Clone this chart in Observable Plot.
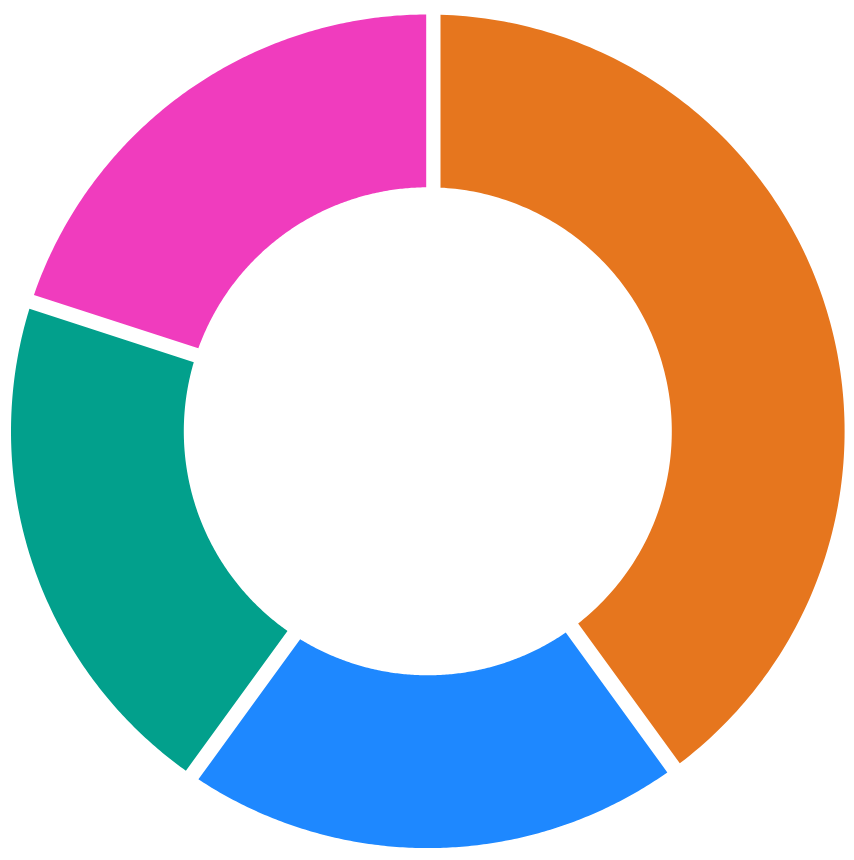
<!DOCTYPE html>
<html>
<head>
<meta charset="utf-8">
<script src="https://cdn.jsdelivr.net/npm/d3@7"></script>
<script src="https://cdn.jsdelivr.net/npm/@observablehq/plot@0.6"></script>
<style>
  html, body { margin: 0; padding: 0; background: #ffffff; }
  #chart svg { display: block; }
</style>
</head>
<body>
<div id="chart"></div>
<script>
// ---- data ----
const categories = ["A", "B", "C", "D"];
const values = [40, 20, 20, 20];
const colors = ["#e6761e", "#1e88ff", "#02a08c", "#f03cbe"];

// ---- geometry (donut built via d3.pie, drawn through Plot scales) ----
const W = 854, H = 860;
const cx = 427.3, cy = 430.8;
const R = 416.8, r0 = 244;
// perpendicular shift (px, clockwise positive) of each slice's start / end edge
const edgeShift = [[12.7, -8.7], [6.7, -19], [-3.8, -6.6], [8.0, -1.6]];
const steps = 160;

const arcs = d3.pie().sort(null).startAngle(0).endAngle(2 * Math.PI)(values);
const rows = [];
arcs.forEach((a, i) => {
  const [hs, he] = edgeShift[i];
  const o0 = a.startAngle + Math.asin(hs / R), o1 = a.endAngle + Math.asin(he / R);
  const i0 = a.startAngle + Math.asin(hs / r0), i1 = a.endAngle + Math.asin(he / r0);
  for (let k = 0; k <= steps; k++) {
    const t = o0 + (o1 - o0) * k / steps;
    rows.push({cat: categories[i], x: R * Math.sin(t), y: R * Math.cos(t)});
  }
  for (let k = 0; k <= steps; k++) {
    const t = i1 + (i0 - i1) * k / steps;
    rows.push({cat: categories[i], x: r0 * Math.sin(t), y: r0 * Math.cos(t)});
  }
});

const chart = Plot.plot({
  width: W,
  height: H,
  margin: 0,
  x: {domain: [-cx, W - cx], axis: null},
  y: {domain: [-(H - cy), cy], axis: null},
  color: {domain: categories, range: colors},
  marks: [
    Plot.line(rows, {x: "x", y: "y", z: "cat", fill: "cat", stroke: "none", curve: "linear-closed"})
  ]
});
document.getElementById("chart").appendChild(chart);
</script>
</body>
</html>
